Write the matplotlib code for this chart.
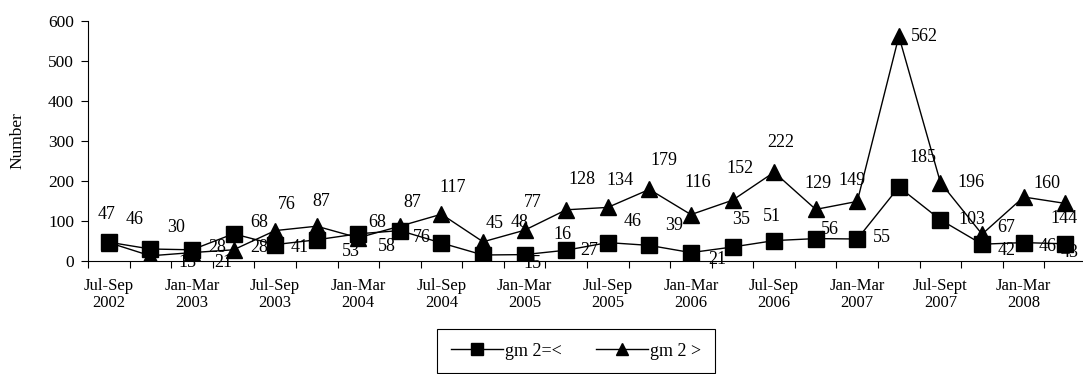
import matplotlib.pyplot as plt
import numpy as np

plt.rcParams['font.family'] = ['Liberation Serif', 'DejaVu Serif']

# quarterly counts, Jul-Sep 2002 .. Apr-Jun 2008
quarters = ["Jul-Sep\n2002", "Oct-Dec\n2002", "Jan-Mar\n2003", "Apr-Jun\n2003",
            "Jul-Sep\n2003", "Oct-Dec\n2003", "Jan-Mar\n2004", "Apr-Jun\n2004",
            "Jul-Sep\n2004", "Oct-Dec\n2004", "Jan-Mar\n2005", "Apr-Jun\n2005",
            "Jul-Sep\n2005", "Oct-Dec\n2005", "Jan-Mar\n2006", "Apr-Jun\n2006",
            "Jul-Sep\n2006", "Oct-Dec\n2006", "Jan-Mar\n2007", "Apr-Jun\n2007",
            "Jul-Sept\n2007", "Oct-Dec\n2007", "Jan-Mar\n2008", "Apr-Jun\n2008"]
gm2_le = [47, 30, 28, 68, 41, 53, 68, 76, 45, 15, 16, 27,
          46, 39, 21, 35, 51, 56, 55, 185, 103, 42, 46, 43]
gm2_gt = [46, 13, 21, 28, 76, 87, 58, 87, 117, 48, 77, 128,
          134, 179, 116, 152, 222, 129, 149, 562, 196, 67, 160, 144]

# label nudges in pixels (dx right, dy down) so the numbers don't collide
le_offsets = [(-2, -28), (26, -22), (25, -2), (26, -11), (25, 3), (34, 12),
              (19, -11), (22, 7), (53, -20), (49, 8), (38, -20), (23, 0),
              (25, -21), (25, -20), (26, 7), (9, -27), (-2, -24), (14, -9),
              (25, -1), (24, -30), (31, 0), (25, 6), (24, 4), (4, 9)]
gt_offsets = [(26, -23), (37, 7), (31, 10), (26, -2), (12, -26), (5, -25),
              (29, 9), (12, -24), (11, -27), (37, -19), (8, -28), (16, -30),
              (12, -27), (15, -29), (7, -32), (7, -32), (7, -30), (2, -26),
              (-5, -21), (26, 0), (31, 0), (24, -7), (23, -14), (-1, 15)]

x = np.arange(len(quarters))
px = 72 / 100  # points per pixel

fig = plt.figure(figsize=(10.83, 3.74), dpi=100)
ax = fig.add_axes([88 / 1083, 113 / 374, 998 / 1083, 240 / 374])

ax.plot(x, gm2_le, color='black', lw=1, marker='s', ms=11, zorder=4, label='gm 2=<')
ax.plot(x, gm2_gt, color='black', lw=1, marker='^', ms=11, zorder=3, label='gm 2 >')

for i in x:
    dx, dy = gt_offsets[i]
    ax.annotate(str(gm2_gt[i]), (i, gm2_gt[i]), textcoords='offset points',
                xytext=(dx * px, -dy * px), ha='center', va='center',
                fontsize=13, zorder=5)
    dx, dy = le_offsets[i]
    ax.annotate(str(gm2_le[i]), (i, gm2_le[i]), textcoords='offset points',
                xytext=(dx * px, -dy * px), ha='center', va='center',
                fontsize=13, zorder=5)

ax.set_xlim(-0.5, len(quarters) - 0.5)
ax.set_ylim(0, 600)
ax.set_yticks(range(0, 601, 100))
ax.set_xticks(x[::2])
ax.set_xticklabels(quarters[::2], fontsize=12, linespacing=1.15)
ax.set_xticks(np.arange(-0.5, len(quarters), 1), minor=True)
ax.tick_params(axis='x', which='major', length=0, pad=12)
ax.tick_params(axis='x', which='minor', length=5, width=0.8, direction='out')
ax.tick_params(axis='y', length=5, width=0.8, direction='out', labelsize=12.5, pad=5)

for side in ['top', 'right']:
    ax.spines[side].set_visible(False)
ax.spines['left'].set_linewidth(0.8)
ax.spines['bottom'].set_linewidth(0.8)

ax.set_ylabel('Number', fontsize=12.5, labelpad=16)

leg = fig.legend(loc='center', bbox_to_anchor=(576 / 1083, 1 - 351 / 374), ncol=2,
                 fontsize=13, handlelength=2.9, handletextpad=0.1,
                 columnspacing=1.9, fancybox=False, edgecolor='black',
                 framealpha=1, borderpad=0.75, borderaxespad=0,
                 markerscale=0.8)
leg.get_frame().set_linewidth(0.8)

fig.savefig('out.png', dpi=100)
